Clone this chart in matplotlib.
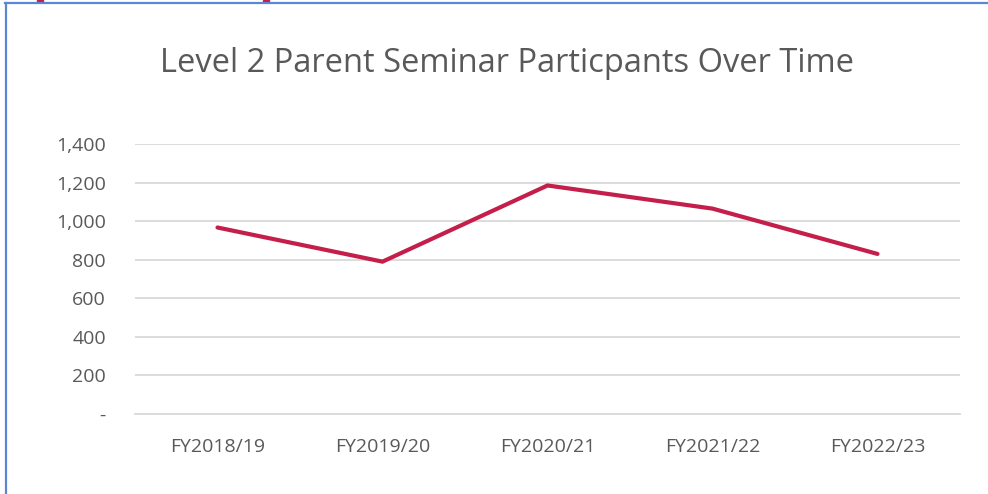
import matplotlib.pyplot as plt
from matplotlib.lines import Line2D
from matplotlib.patches import Rectangle

# data
years = ['FY2018/19', 'FY2019/20', 'FY2020/21', 'FY2021/22', 'FY2022/23']
participants = [967, 790, 1185, 1065, 830]
yticks = [0, 200, 400, 600, 800, 1000, 1200, 1400]

plt.rcParams['font.family'] = ['Open Sans', 'DejaVu Sans']
text_grey = '#595959'
grid_grey = '#d9d9d9'
line_red = '#c41e4a'

W, H = 988, 494
fig = plt.figure(figsize=(W / 100, H / 100), dpi=100)
ax = fig.add_axes([135 / W, 1 - 414 / H, 825 / W, 270 / H])

x = list(range(len(years)))
ax.plot(x, participants, color=line_red, linewidth=3.0, solid_capstyle='round',
        solid_joinstyle='miter')

ax.set_xlim(-0.5, len(years) - 0.5)
ax.set_ylim(0, 1400)
ax.set_yticks(yticks)
ax.set_yticklabels(['-' if v == 0 else '{:,}'.format(v) for v in yticks])
ax.set_xticks(x)
ax.set_xticklabels(years)
ax.grid(axis='y', color=grid_grey, linewidth=1.3)
ax.set_axisbelow(True)
for s in ['top', 'right', 'left']:
    ax.spines[s].set_visible(False)
ax.spines['bottom'].set_color(grid_grey)
ax.spines['bottom'].set_linewidth(1.3)
ax.tick_params(axis='both', length=0, labelsize=14, colors=text_grey)
ax.tick_params(axis='y', pad=21)
ax.tick_params(axis='x', pad=17)

fig.text(507 / W, 1 - 64 / H, 'Level 2 Parent Seminar Particpants Over Time',
         ha='center', va='center', fontsize=23.5, color=text_grey)

# outer chart frame (blue) and the clipped red marks at top
blue = '#5b86d6'
fig.add_artist(Line2D([5 / W, 1], [1 - 3.5 / H, 1 - 3.5 / H], color=blue, linewidth=1.6))
fig.add_artist(Line2D([5.5 / W, 5.5 / W], [0, 1 - 3.5 / H], color=blue, linewidth=1.6))
fig.add_artist(Rectangle((37 / W, 1 - 2 / H), 6 / W, 2 / H, color=line_red, transform=fig.transFigure))
fig.add_artist(Rectangle((263 / W, 1 - 2 / H), 6 / W, 2 / H, color=line_red, transform=fig.transFigure))

fig.savefig('out.png', dpi=100)
